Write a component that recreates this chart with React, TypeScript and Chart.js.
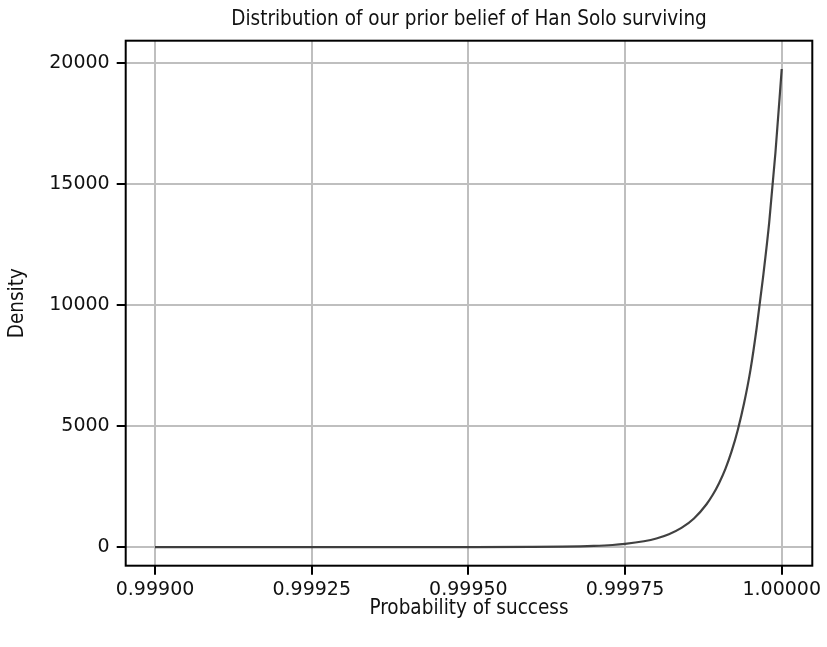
import React, { useEffect, useRef } from "react";
import { Chart, registerables } from "chart.js";

Chart.register(...registerables);

const chartTitle = "Distribution of our prior belief of Han Solo surviving";
const xAxisTitle = "Probability of success";
const yAxisTitle = "Density";

const probability = [
  0.999, 0.99925, 0.9995, 0.9996, 0.99965, 0.9997, 0.99973, 0.99975, 0.99978,
  0.9998, 0.99982, 0.99984, 0.99986, 0.99988, 0.99989, 0.9999, 0.99991,
  0.99992, 0.99993, 0.99994, 0.99995, 0.99996, 0.99997, 0.99998, 0.99999, 1.0,
];
const density = [
  0, 0, 1, 6, 18, 48, 85, 130, 240, 355, 530, 790, 1180, 1770, 2160, 2640,
  3220, 3950, 4850, 5950, 7300, 9050, 11100, 13400, 16300, 19750,
];

const xTicks = [0.999, 0.99925, 0.9995, 0.99975, 1.0];
const yTicks = [0, 5000, 10000, 15000, 20000];

const FONT = "'DejaVu Sans Condensed', 'DejaVu Sans', sans-serif";
const TICK_FONT = "'DejaVu Sans', sans-serif";

export default function App() {
  const ref = useRef<HTMLCanvasElement | null>(null);

  useEffect(() => {
    if (!ref.current) return;
    const framePlugin = {
      id: "frameAndTitle",
      afterDraw(chart: any) {
        const { ctx, chartArea } = chart;
        ctx.save();
        ctx.strokeStyle = "#000";
        ctx.lineWidth = 2;
        ctx.strokeRect(
          chartArea.left,
          chartArea.top,
          chartArea.right - chartArea.left,
          chartArea.bottom - chartArea.top
        );
        ctx.fillStyle = "#111";
        ctx.font = `20.5px ${FONT}`;
        ctx.textAlign = "center";
        ctx.textBaseline = "middle";
        ctx.fillText(chartTitle, (chartArea.left + chartArea.right) / 2, 20);
        ctx.restore();
      },
    };

    const chart = new Chart(ref.current, {
      type: "scatter",
      data: {
        datasets: [
          {
            data: probability.map((p, i) => ({ x: p, y: density[i] })),
            showLine: true,
            borderColor: "rgba(55,55,55,0.95)",
            borderWidth: 2.2,
            pointRadius: 0,
            cubicInterpolationMode: "monotone",
            fill: false,
          },
        ],
      },
      options: {
        animation: false,
        responsive: false,
        devicePixelRatio: 1,
        layout: { padding: { top: 40.7, right: 14.7, bottom: 0, left: 0 } },
        plugins: {
          legend: { display: false },
          tooltip: { enabled: false },
          title: { display: false },
        },
        scales: {
          x: {
            type: "linear",
            min: 0.9989532,
            max: 1.0000488,
            afterBuildTicks: (scale: any) => {
              scale.ticks = xTicks.map((v) => ({ value: v }));
            },
            afterFit: (scale: any) => {
              scale.height = 81.3;
              scale.paddingLeft = 0;
              scale.paddingRight = 0;
            },
            ticks: {
              color: "#111",
              font: { family: TICK_FONT, size: 19 },
              padding: 4,
              maxRotation: 0,
              autoSkip: false,
              callback: (v: any) => Number(v).toFixed(5),
            },
            grid: {
              color: "#bfbfbf",
              lineWidth: 2,
              tickColor: "#000",
              tickWidth: 2,
              tickLength: 9,
            },
            border: { display: false },
            title: {
              display: true,
              text: xAxisTitle,
              color: "#111",
              font: { family: FONT, size: 20.5, lineHeight: 1.2 },
              padding: { top: 0, bottom: 26 },
            },
          },
          y: {
            type: "linear",
            min: -770,
            max: 20920,
            afterBuildTicks: (scale: any) => {
              scale.ticks = yTicks.map((v) => ({ value: v }));
            },
            afterFit: (scale: any) => {
              scale.width = 125.7;
              scale.paddingTop = 0;
              scale.paddingBottom = 0;
            },
            ticks: {
              color: "#111",
              font: { family: TICK_FONT, size: 19 },
              padding: 7,
              callback: (v: any) => String(v),
            },
            grid: {
              color: "#bfbfbf",
              lineWidth: 2,
              tickColor: "#000",
              tickWidth: 2,
              tickLength: 9,
            },
            border: { display: false },
            title: {
              display: true,
              text: yAxisTitle,
              color: "#111",
              font: { family: FONT, size: 20.5, lineHeight: 1.2 },
              padding: { top: 5.7, bottom: 0 },
            },
          },
        },
      },
      plugins: [framePlugin],
    } as any);

    return () => chart.destroy();
  }, []);

  return (
    <div style={{ position: "absolute", left: 0, top: 0, width: 827, height: 647 }}>
      <canvas ref={ref} width={827} height={647} />
    </div>
  );
}
